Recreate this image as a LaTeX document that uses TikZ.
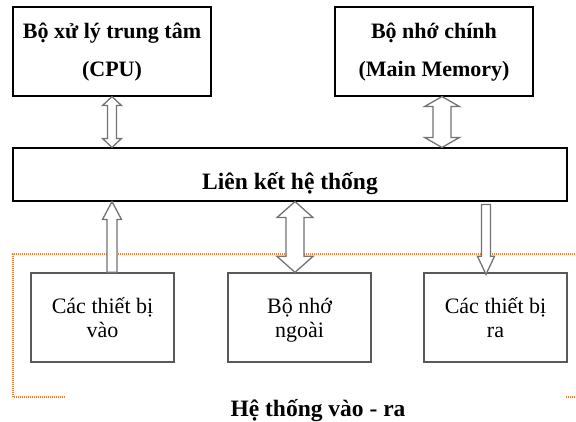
\documentclass[tikz,border=0pt]{standalone}
\usepackage{fontspec}
\setmainfont{Liberation Serif}
\usetikzlibrary{calc}

\definecolor{dotorange}{RGB}{242,128,60}

\tikzset{
  unitbox/.style={draw=black, line width=1.1pt, minimum height=89pt, inner sep=0pt,
    text height=56pt, text depth=5pt, align=center, font=\fontsize{22}{38}\selectfont\bfseries},
  iobox/.style={draw=black!65, line width=1.3pt, minimum width=143pt, minimum height=89pt,
    inner sep=0pt, text height=44pt, text depth=5pt, align=center, font=\fontsize{22}{24}\selectfont},
  fatarrow/.style={draw=black!55, line width=1.3pt, fill=white, line join=miter},
  iozone/.style={draw=dotorange, line width=1.3pt, dash pattern=on 1pt off 1pt}
}

% #1 top end, #2 bottom end, #3 x, #4 shaft half width, #5 head half width, #6 head length
\newcommand{\bothway}[6]{%
  \draw[fatarrow] let \p1=(#1), \p2=(#2) in
    (#3,\y1) -- (#3+#5,\y1-#6) -- (#3+#4,\y1-#6) -- (#3+#4,\y2+#6)
    -- (#3+#5,\y2+#6) -- (#3,\y2) -- (#3-#5,\y2+#6) -- (#3-#4,\y2+#6)
    -- (#3-#4,\y1-#6) -- (#3-#5,\y1-#6) -- cycle;}
\newcommand{\upway}[6]{%
  \draw[fatarrow] let \p1=(#1), \p2=(#2) in
    (#3,\y1) -- (#3+#5,\y1-#6) -- (#3+#4,\y1-#6) -- (#3+#4,\y2)
    -- (#3-#4,\y2) -- (#3-#4,\y1-#6) -- (#3-#5,\y1-#6) -- cycle;}
\newcommand{\downway}[6]{%
  \draw[fatarrow] let \p1=(#1), \p2=(#2) in
    (#3-#4,\y1) -- (#3+#4,\y1) -- (#3+#4,\y2+#6) -- (#3+#5,\y2+#6)
    -- (#3,\y2) -- (#3-#5,\y2+#6) -- (#3-#4,\y2+#6) -- cycle;}

\begin{document}
\begin{tikzpicture}[x=1pt,y=1pt]
  \useasboundingbox (0,0) rectangle (576,421);

  \draw[iozone] (65,24) -- (13,24) -- (13,167) -- (576,167);
  \draw[iozone] (566,24) -- (576,24);

  \node[unitbox, minimum width=198pt] (cpu) at (112,369.5) {Bộ xử lý trung tâm\\(CPU)};
  \node[unitbox, minimum width=198pt] (mem) at (434,369.5) {Bộ nhớ chính\\(Main Memory)};
  \node[draw=black, line width=1.1pt, minimum width=554pt, minimum height=53pt, inner sep=0pt,
    text height=36pt, text depth=5pt, font=\fontsize{23.5}{28}\selectfont\bfseries]
    (bus) at (290,246.5) {Liên kết hệ thống};

  \node[iobox] (in) at (102.5,103.5) {Các thiết bị\\vào};
  \node[iobox] (ext) at (299.5,103.5) {Bộ nhớ\\ngoài};
  \node[iobox] (out) at (495.5,103.5) {Các thiết bị\\ra};

  \node[anchor=base, font=\fontsize{23.5}{28}\selectfont\bfseries] (iolabel) at (318,5)
    {Hệ thống vào - ra};

  \bothway{cpu.south}{bus.north}{112pt}{4.5}{9.5}{9}
  \bothway{mem.south}{bus.north}{442pt}{9}{17.5}{10}
  \upway{bus.south}{in.north}{112pt}{5}{9.5}{18}
  \bothway{bus.south}{ext.north}{295pt}{9}{18}{16}
  \downway{$(bus.south)+(0,-3)$}{$(out.north)+(0,-2)$}{486pt}{4.5}{8.5}{18}
\end{tikzpicture}
\end{document}
